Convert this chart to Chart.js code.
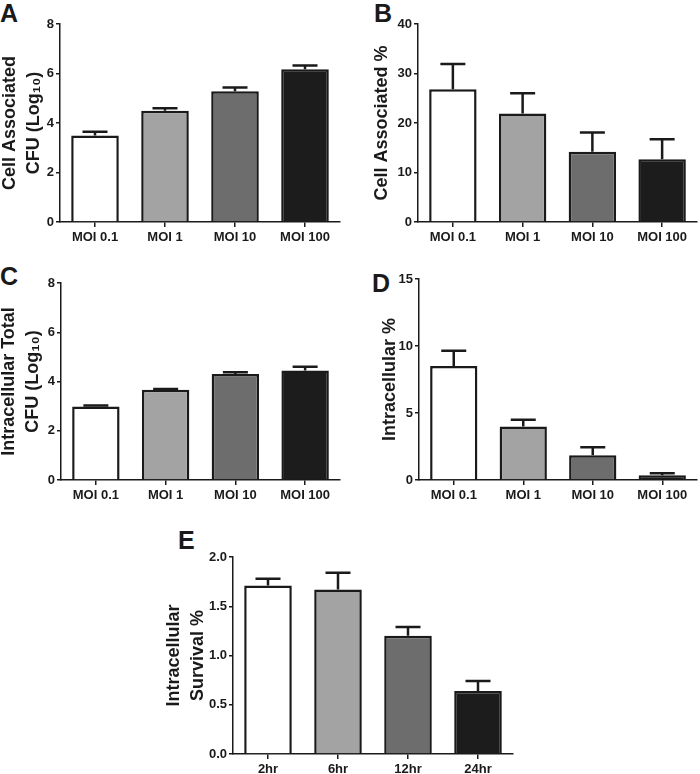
<!DOCTYPE html>
<html>
<head>
<meta charset="utf-8">
<script src="https://cdn.jsdelivr.net/npm/chart.js@4/dist/chart.umd.min.js"></script>
<style>
  body { margin: 0; background: #fff; }
  #wrap { position: relative; width: 700px; height: 774px; overflow: hidden; }
  .panel { position: absolute; }
  .letter { position: absolute; font: bold 25px "Liberation Sans", Arial, sans-serif; color: #1a1a1a; line-height: 1; }
</style>
</head>
<body>
<div id="wrap">
  <div class="letter" style="left:0px; top:1px;">A</div>
  <div class="letter" style="left:374px; top:1px;">B</div>
  <div class="letter" style="left:0px; top:264px;">C</div>
  <div class="letter" style="left:372px; top:271px;">D</div>
  <div class="letter" style="left:178px; top:528px;">E</div>
</div>
<script>
const moiLabels = ["MOI 0.1", "MOI 1", "MOI 10", "MOI 100"];
const timeLabels = ["2hr", "6hr", "12hr", "24hr"];

const cellAssocLog = [3.5, 4.5, 5.28, 6.17];
const cellAssocLogErr = [0.15, 0.1, 0.15, 0.15];

const cellAssocPct = [26.8, 21.9, 14.2, 12.7];
const cellAssocPctErr = [5.1, 4.1, 3.9, 4.0];

const intraLog = [2.98, 3.66, 4.3, 4.45];
const intraLogErr = [0.05, 0.04, 0.08, 0.15];

const intraPct = [8.5, 4.0, 1.85, 0.35];
const intraPctErr = [1.15, 0.5, 0.6, 0.15];

const survival = [1.71, 1.67, 1.2, 0.64];
const survivalErr = [0.07, 0.17, 0.09, 0.1];

const barColors = ["#ffffff", "#a3a3a3", "#6d6d6d", "#1c1c1c"];
const FONT = "'Liberation Sans', Arial, sans-serif";
const INK = "#1a1a1a";

// draws upward error bars with a cap, using the chart's own scales
const errorBarPlugin = {
  id: "errorBars",
  afterDatasetsDraw(chart) {
    const errs = chart.options.plugins.errorBars.errors;
    const meta = chart.getDatasetMeta(0);
    const y = chart.scales.y;
    const ctx = chart.ctx;
    const values = chart.data.datasets[0].data;
    ctx.save();
    ctx.strokeStyle = INK;
    ctx.lineWidth = 2.5;
    meta.data.forEach((bar, i) => {
      const top = y.getPixelForValue(values[i] + errs[i]);
      const base = y.getPixelForValue(values[i]);
      ctx.beginPath();
      ctx.moveTo(bar.x, base);
      ctx.lineTo(bar.x, top);
      ctx.moveTo(bar.x - 12.5, top);
      ctx.lineTo(bar.x + 12.5, top);
      ctx.stroke();
    });
    ctx.restore();
  }
};

const makePanel = (p) => {
  const div = document.createElement("div");
  div.className = "panel";
  div.style.left = p.left + "px";
  div.style.top = p.top + "px";
  div.style.width = p.width + "px";
  div.style.height = p.height + "px";
  const canvas = document.createElement("canvas");
  div.appendChild(canvas);
  document.getElementById("wrap").appendChild(div);

  new Chart(canvas.getContext("2d"), {
    type: "bar",
    data: {
      labels: p.labels,
      datasets: [{
        data: p.values,
        backgroundColor: barColors,
        borderColor: INK,
        borderWidth: 2.5,
        barPercentage: 0.68,
        categoryPercentage: 1
      }]
    },
    options: {
      responsive: true,
      maintainAspectRatio: false,
      animation: false,
      layout: { padding: { top: p.padTop, right: p.padRight, left: 0, bottom: 0 } },
      plugins: {
        legend: { display: false },
        tooltip: { enabled: false },
        errorBars: { errors: p.errors }
      },
      scales: {
        x: {
          afterFit: (s) => { s.height = p.xHeight; },
          grid: { offset: false, drawOnChartArea: false, drawTicks: true, tickLength: 5, color: INK, lineWidth: 1.5 },
          border: { display: true, color: INK, width: 1.5 },
          ticks: { color: INK, padding: 3, maxRotation: 0, font: { family: FONT, size: 13, weight: "bold" } }
        },
        y: {
          min: 0,
          max: p.max,
          afterFit: (s) => { s.width = p.yWidth; },
          grid: { drawOnChartArea: false, drawTicks: true, tickLength: 4, color: INK, lineWidth: 1.5 },
          border: { display: true, color: INK, width: 1.5 },
          ticks: {
            stepSize: p.step,
            color: INK,
            padding: 2,
            font: { family: FONT, size: 13, weight: "bold" },
            callback: (v) => p.decimals ? v.toFixed(p.decimals) : v
          },
          title: {
            display: true,
            text: p.title,
            color: INK,
            padding: { top: p.titlePad, bottom: 0 },
            font: { family: FONT, size: 18, weight: "bold", lineHeight: 1.33 }
          }
        }
      }
    },
    plugins: [errorBarPlugin]
  });
};

makePanel({ left: 0, top: 0, width: 345, height: 250, yWidth: 60, xHeight: 28, padTop: 24, padRight: 5, titlePad: -2,
  labels: moiLabels, values: cellAssocLog, errors: cellAssocLogErr, max: 8, step: 2,
  title: ["Cell Associated", "CFU (Log\u2081\u2080)"] });

makePanel({ left: 355, top: 0, width: 345, height: 250, yWidth: 63, xHeight: 28, padTop: 24, padRight: 3, titlePad: 15,
  labels: moiLabels, values: cellAssocPct, errors: cellAssocPctErr, max: 40, step: 10,
  title: "Cell Associated %" });

makePanel({ left: 0, top: 255, width: 345, height: 253, yWidth: 61, xHeight: 28, padTop: 28, padRight: 5, titlePad: -3,
  labels: moiLabels, values: intraLog, errors: intraLogErr, max: 8, step: 2,
  title: ["Intracellular Total", "CFU (Log\u2081\u2080)"] });

makePanel({ left: 355, top: 255, width: 345, height: 253, yWidth: 64, xHeight: 28, padTop: 24, padRight: 3, titlePad: 23,
  labels: moiLabels, values: intraPct, errors: intraPctErr, max: 15, step: 5,
  title: "Intracellular %" });

makePanel({ left: 160, top: 530, width: 360, height: 244, yWidth: 73, xHeight: 20, padTop: 27, padRight: 7, titlePad: 2,
  labels: timeLabels, values: survival, errors: survivalErr, max: 2, step: 0.5, decimals: 1,
  title: ["Intracellular", "Survival %"] });
</script>
</body>
</html>
